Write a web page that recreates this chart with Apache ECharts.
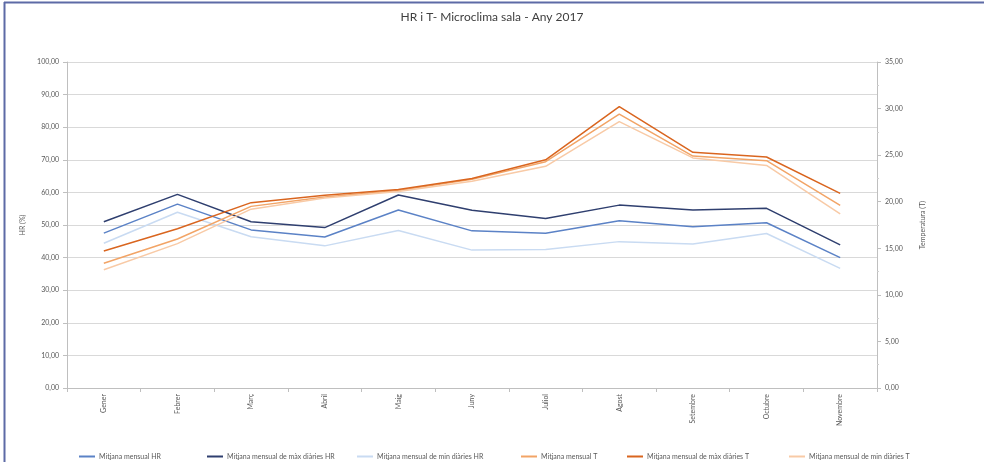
<!DOCTYPE html>
<html><head><meta charset="utf-8">
<script src="https://cdn.jsdelivr.net/npm/echarts@6/dist/echarts.min.js"></script>
<style>html,body{margin:0;padding:0;background:#fff}#c{width:984px;height:462px}</style>
</head><body><div id="c"></div>
<script>
const categories = ['Gener','Febrer','Març','Abril','Maig','Juny','Juliol','Agost','Setembre','Octubre','Novembre'];
const hrMean = [47.5, 56.4, 48.5, 46.3, 54.6, 48.2, 47.5, 51.3, 49.5, 50.7, 40.0];
const hrMax  = [51.0, 59.4, 51.0, 49.2, 59.2, 54.5, 52.0, 56.1, 54.6, 55.1, 43.9];
const hrMin  = [44.4, 53.9, 46.4, 43.6, 48.3, 42.3, 42.5, 44.9, 44.2, 47.4, 36.7];
const tMean  = [13.4, 16.0, 19.5, 20.5, 21.2, 22.4, 24.3, 29.4, 24.9, 24.4, 19.6];
const tMax   = [14.7, 17.1, 19.9, 20.7, 21.3, 22.5, 24.5, 30.2, 25.3, 24.8, 20.9];
const tMin   = [12.7, 15.5, 19.2, 20.4, 21.1, 22.2, 23.8, 28.6, 24.7, 23.9, 18.7];
const seriesNames = ['Mitjana mensual HR','Mitjana mensual de màx diàries HR','Mitjana mensual de min diàries HR','Mitjana mensual T','Mitjana mensual de màx diàries T','Mitjana mensual de min diàries T'];
const seriesData = [hrMean, hrMax, hrMin, tMean, tMax, tMin];
const colors = ['#5b82c6','#2f3f6f','#c9dbf2','#f2a466','#d9651f','#f8caa6'];
const axisIdx = [0,0,0,1,1,1];
const legendLeft = [74, 202, 352, 516, 622, 784];

const fmt = v => v.toFixed(2).replace('.', ',');
const chart = echarts.init(document.getElementById('c'), null, {renderer:'canvas'});
const fontFam = 'Lato, "Open Sans", sans-serif';
chart.setOption({
  backgroundColor: '#fff',
  animation: false,
  color: colors,
  title: {text: 'HR i T- Microclima sala - Any 2017', left: 'center', top: 6,
    textStyle: {fontFamily: fontFam, fontSize: 12, fontWeight: 'normal', color: '#404040'}},
  graphic: [
    {type:'line', shape:{x1:4, y1:2.5, x2:984, y2:2.5}, style:{stroke:'#5d6aa6', lineWidth:2}},
    {type:'line', shape:{x1:4.5, y1:2, x2:4.5, y2:462}, style:{stroke:'#5d6aa6', lineWidth:2}}
  ],
  legend: seriesNames.map((n, i) => ({
    data: [n], left: legendLeft[i], top: 448, itemWidth: 16, itemHeight: 2, itemGap: 4,
    icon: 'rect',
    textStyle: {fontFamily: fontFam, fontSize: 7, color: '#595959', padding: [0,0,0,-1]}
  })),
  grid: {left: 67, right: 107, top: 62, bottom: 74},
  xAxis: {
    type: 'category', data: categories, boundaryGap: true,
    axisLine: {lineStyle: {color: '#bfbfbf'}},
    axisTick: {show: true, length: 4, lineStyle: {color: '#bfbfbf'}},
    axisLabel: {rotate: 90, fontSize: 7, color: '#595959', fontFamily: fontFam, margin: 6}
  },
  yAxis: [
    {type: 'value', min: 0, max: 100, interval: 10, name: 'HR (%)', nameLocation: 'middle', nameGap: 36,
     nameTextStyle: {fontSize: 7, color: '#595959', fontFamily: fontFam},
     axisLine: {show: true, lineStyle: {color: '#bfbfbf'}},
     axisTick: {show: true, length: 4, lineStyle: {color: '#bfbfbf'}},
     axisLabel: {formatter: fmt, fontSize: 7, color: '#595959', fontFamily: fontFam, margin: 8},
     splitLine: {lineStyle: {color: '#d9d9d9'}}},
    {type: 'value', min: 0, max: 35, interval: 5, name: 'Temperatura (T)', nameLocation: 'middle', nameGap: 42,
     nameRotate: 90,
     nameTextStyle: {fontSize: 7, color: '#595959', fontFamily: fontFam},
     axisLine: {show: true, lineStyle: {color: '#bfbfbf'}},
     axisTick: {show: true, length: 4, lineStyle: {color: '#bfbfbf'}},
     minorTick: {show: true, splitNumber: 2, length: 2, lineStyle: {color: '#d0d0d0'}},
     axisLabel: {formatter: fmt, fontSize: 7, color: '#595959', fontFamily: fontFam, margin: 8},
     splitLine: {show: false}}
  ],
  series: seriesNames.map((n, i) => ({
    name: n, type: 'line', yAxisIndex: axisIdx[i], data: seriesData[i],
    symbol: 'none', lineStyle: {width: 1.5, color: colors[i]}, itemStyle: {color: colors[i]}
  }))
});
</script></body></html>
